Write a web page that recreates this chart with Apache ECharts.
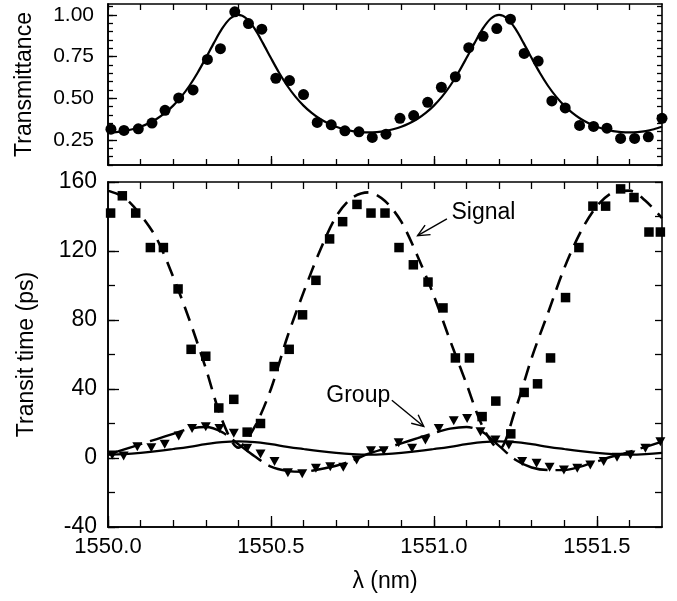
<!DOCTYPE html>
<html><head><meta charset="utf-8">
<script src="https://cdn.jsdelivr.net/npm/echarts@6/dist/echarts.min.js"></script>
<style>html,body{margin:0;padding:0;background:#fff}#c{width:677px;height:601px}</style>
</head><body><div id="c"></div>
<script>
// ---------- data ----------
// Top panel: measured transmittance (circles)
const xTrans = [1550.009,1550.049,1550.093,1550.135,1550.175,1550.217,1550.261,1550.305,1550.345,1550.389,1550.431,1550.472,1550.515,1550.557,1550.600,1550.642,1550.685,1550.727,1550.770,1550.811,1550.853,1550.896,1550.938,1550.981,1551.023,1551.066,1551.107,1551.151,1551.193,1551.235,1551.277,1551.320,1551.362,1551.403,1551.447,1551.490,1551.531,1551.573,1551.616,1551.658,1551.700];
const transData = [0.315,0.307,0.317,0.351,0.428,0.502,0.550,0.733,0.797,1.018,0.948,0.914,0.620,0.606,0.522,0.355,0.341,0.305,0.299,0.265,0.285,0.380,0.396,0.476,0.566,0.629,0.803,0.871,0.918,0.974,0.769,0.723,0.484,0.442,0.337,0.331,0.321,0.259,0.259,0.269,0.380];
// Top panel: fitted transmittance curve (solid)
const xFine = [1550.000,1550.025,1550.050,1550.075,1550.100,1550.125,1550.150,1550.175,1550.200,1550.225,1550.250,1550.275,1550.300,1550.325,1550.350,1550.375,1550.400,1550.425,1550.450,1550.475,1550.500,1550.525,1550.550,1550.575,1550.600,1550.625,1550.650,1550.675,1550.700,1550.725,1550.750,1550.775,1550.800,1550.825,1550.850,1550.875,1550.900,1550.925,1550.950,1550.975,1551.000,1551.025,1551.050,1551.075,1551.100,1551.125,1551.150,1551.175,1551.200,1551.225,1551.250,1551.275,1551.300,1551.325,1551.350,1551.375,1551.400,1551.425,1551.450,1551.475,1551.500,1551.525,1551.550,1551.575,1551.600,1551.625,1551.650,1551.675,1551.700];
const transFit = [0.295,0.297,0.303,0.314,0.329,0.350,0.377,0.412,0.456,0.510,0.575,0.653,0.741,0.832,0.917,0.978,1.000,0.978,0.917,0.832,0.741,0.653,0.575,0.510,0.456,0.412,0.377,0.350,0.329,0.314,0.303,0.297,0.295,0.297,0.303,0.314,0.329,0.350,0.377,0.412,0.456,0.510,0.575,0.653,0.741,0.832,0.917,0.978,1.000,0.978,0.917,0.832,0.741,0.653,0.575,0.510,0.456,0.412,0.377,0.350,0.329,0.314,0.303,0.297,0.295,0.297,0.303,0.314,0.329];

// Bottom panel: signal transit time (squares) and group delay (triangles)
const xSignal = [1550.008,1550.044,1550.085,1550.130,1550.170,1550.215,1550.255,1550.300,1550.340,1550.386,1550.427,1550.468,1550.510,1550.556,1550.597,1550.638,1550.680,1550.720,1550.764,1550.807,1550.850,1550.893,1550.937,1550.982,1551.028,1551.066,1551.109,1551.148,1551.190,1551.236,1551.277,1551.318,1551.358,1551.404,1551.445,1551.488,1551.527,1551.573,1551.614,1551.660,1551.695];
const signalData = [142,152,142,122,122,98,63,59,29,34,15,20,53,63,83,103,127,137,147,142,142,122,112,102,87,58,58,24,33,14,38,43,58,93,122,146,146,156,151,131,131];
const xGroup = [1550.013,1550.048,1550.090,1550.133,1550.174,1550.217,1550.258,1550.300,1550.342,1550.386,1550.427,1550.468,1550.511,1550.552,1550.596,1550.638,1550.682,1550.722,1550.763,1550.807,1550.846,1550.892,1550.933,1550.974,1551.015,1551.061,1551.102,1551.143,1551.189,1551.230,1551.271,1551.315,1551.355,1551.399,1551.440,1551.480,1551.521,1551.562,1551.603,1551.649,1551.695];
const groupData = [1.7,1.2,6.5,6,7.9,12.7,17.1,18.1,17.1,14.3,5.6,2.3,-2.1,-8.5,-9.2,-6,-5,-5.4,-1.2,4.2,4.2,8.8,5.6,10.4,17.1,21.6,22.9,15.2,10.4,7.5,-2.1,-3.1,-5.4,-6.9,-6,-4,-2.1,0.4,1.7,5.6,9.4];
// Bottom panel: fitted curves
const xFit = [1550.00,1550.05,1550.10,1550.15,1550.20,1550.25,1550.30,1550.35,1550.40,1550.45,1550.50,1550.55,1550.60,1550.65,1550.70,1550.75,1550.80,1550.85,1550.90,1550.95,1551.00,1551.05,1551.10,1551.15,1551.20,1551.25,1551.30,1551.35,1551.40,1551.45,1551.50,1551.55,1551.60,1551.65,1551.70];
const signalFit = [155,151,141,127,105,80,52,22,6,18,40,70,96,120,140,151,154,149,137,117,94,68,43,18,5,28,58,84,110,131,146,154,155,149,139];
const groupFit = [2,5,8,11,14,17,18,15,8,1,-5,-7.5,-8,-6.5,-4.5,-1.5,2.5,5.5,8.5,11.5,14.5,17,18,15,7,-1,-5.5,-7,-7,-5,-2,1,3.5,6.5,9.5];
const groupTheory = [2.0,2.3,3.0,4.0,5.2,6.5,8.0,9.2,9.6,9.2,8.0,6.5,5.2,4.0,3.0,2.3,2.0,2.3,3.0,4.0,5.2,6.5,8.0,9.2,9.6,9.2,8.0,6.5,5.2,4.0,3.0,2.3,2.0,2.3,3.0];

// ticks and labels
const xMajor = [1550.0,1550.5,1551.0,1551.5];
const xMinor = [1550.0,1550.1,1550.2,1550.3,1550.4,1550.5,1550.6,1550.7,1550.8,1550.9,1551.0,1551.1,1551.2,1551.3,1551.4,1551.5,1551.6];
const tMajor = [0.25,0.50,0.75,1.00];
const tMinor = [0.10,0.15,0.20,0.25,0.30,0.35,0.40,0.45,0.50,0.55,0.60,0.65,0.70,0.75,0.80,0.85,0.90,0.95,1.00,1.05];
const yMajor = [-40,0,40,80,120,160];
const yMinor = [-40,-20,0,20,40,60,80,100,120,140,160];

// annotations
const annTexts = [{text:'Signal', x:1551.152, y:142.5},{text:'Group', x:1550.768, y:36.4}];
const annArrows = [{from:[1551.04,138.6], to:[1550.95,128.9]},{from:[1550.871,33.5], to:[1550.969,18.3]}];

// ---------- chart ----------
const FONT = "'Liberation Sans', Arial, Helvetica, sans-serif";
const zip = (xs, ys) => xs.map((x, i) => [x, ys[i]]);

function ax(o) {
  const a = {
    type: 'value', gridIndex: o.grid, position: o.pos, min: o.min, max: o.max,
    axisLine: {show: true, onZero: false, lineStyle: {color: '#000', width: 1.6}},
    axisTick: {show: true, inside: true, length: o.len, customValues: o.ticks, lineStyle: {color: '#000', width: 1.3}},
    axisLabel: o.labels ? {show: true, customValues: o.labels, formatter: o.fmt, margin: o.margin, color: '#000', fontSize: o.fs || 22, fontFamily: FONT} : {show: false},
    splitLine: {show: false}, minorTick: {show: false}, minorSplitLine: {show: false}
  };
  if (o.name) {
    a.name = o.name; a.nameLocation = 'middle'; a.nameGap = o.nameGap;
    a.nameTextStyle = {color: '#000', fontSize: 23, fontFamily: FONT};
    if (o.nameRotate !== undefined) a.nameRotate = o.nameRotate;
  }
  return a;
}
const XMIN = 1550.0, XMAX = 1551.7;

const option = {
  animation: false,
  backgroundColor: '#fff',
  textStyle: {fontFamily: FONT},
  grid: [
    {left: 108, right: 15, top: 4, height: 161},
    {left: 108, right: 15, top: 182, height: 345}
  ],
  xAxis: [
    ax({grid:0,pos:'bottom',min:XMIN,max:XMAX,len:6,ticks:xMinor}),
    ax({grid:0,pos:'top',min:XMIN,max:XMAX,len:6,ticks:xMinor}),
    ax({grid:0,pos:'bottom',min:XMIN,max:XMAX,len:9,ticks:xMajor}),
    ax({grid:1,pos:'bottom',min:XMIN,max:XMAX,len:11,ticks:xMajor,labels:xMajor,fmt:v=>Number(v).toFixed(1),margin:9,fs:22,name:'λ (nm)',nameGap:43}),
    ax({grid:1,pos:'bottom',min:XMIN,max:XMAX,len:7,ticks:xMinor}),
    ax({grid:1,pos:'top',min:XMIN,max:XMAX,len:7,ticks:xMinor})
  ],
  yAxis: [
    ax({grid:0,pos:'left',min:0.1,max:1.065,len:9,ticks:tMajor,labels:tMajor,fmt:v=>Number(v).toFixed(2),margin:14,fs:21,name:'Transmittance',nameGap:72,nameRotate:90}),
    ax({grid:0,pos:'left',min:0.1,max:1.065,len:5,ticks:tMinor}),
    ax({grid:0,pos:'right',min:0.1,max:1.065,len:5,ticks:tMinor}),
    ax({grid:1,pos:'left',min:-40,max:160,len:11,ticks:yMajor,labels:yMajor,fmt:v=>String(v),margin:11,fs:23,name:'Transit time (ps)',nameGap:70,nameRotate:90}),
    ax({grid:1,pos:'left',min:-40,max:160,len:7,ticks:yMinor}),
    ax({grid:1,pos:'right',min:-40,max:160,len:7,ticks:yMinor})
  ],
  series: [
    {type:'line', xAxisIndex:0, yAxisIndex:0, data:zip(xFine, transFit), showSymbol:false, smooth:0.3,
      lineStyle:{color:'#000', width:2.2}, z:2},
    {type:'scatter', xAxisIndex:0, yAxisIndex:0, data:zip(xTrans, transData), symbol:'circle', symbolSize:11,
      itemStyle:{color:'#000', opacity:1}, z:3},
    {type:'line', xAxisIndex:3, yAxisIndex:3, data:zip(xFit, signalFit), showSymbol:false, smooth:0.3,
      lineStyle:{color:'#000', width:2.6, type:[15,9]}, z:2},
    {type:'line', xAxisIndex:3, yAxisIndex:3, data:zip(xFit, groupFit), showSymbol:false, smooth:0.3,
      lineStyle:{color:'#000', width:2.4, type:[36,8]}, z:2},
    {type:'line', xAxisIndex:3, yAxisIndex:3, data:zip(xFit, groupTheory), showSymbol:false, smooth:0.4,
      lineStyle:{color:'#000', width:2.2}, z:2},
    {type:'scatter', xAxisIndex:3, yAxisIndex:3, data:zip(xSignal, signalData), symbol:'rect', symbolSize:9.5,
      itemStyle:{color:'#000', opacity:1}, z:3},
    {type:'scatter', xAxisIndex:3, yAxisIndex:3, data:zip(xGroup, groupData), symbol:'triangle', symbolRotate:180, symbolSize:[10,9],
      itemStyle:{color:'#000', opacity:1}, z:3}
  ]
};

const chart = echarts.init(document.getElementById('c'), null, {renderer: 'canvas'});
chart.setOption(option);

// annotations positioned through the library's coordinate conversion
const toPx = p => chart.convertToPixel({seriesIndex: 2}, p);
const g = [];
annTexts.forEach(a => {
  const p = toPx([a.x, a.y]);
  g.push({type:'text', x:p[0], y:p[1], z:10,
    style:{text:a.text, fill:'#000', font:'23px ' + FONT, textAlign:'center', textVerticalAlign:'middle', align:'center', verticalAlign:'middle'}});
});
annArrows.forEach(a => {
  const s = toPx(a.from), e = toPx(a.to);
  const dx = e[0]-s[0], dy = e[1]-s[1], L = Math.hypot(dx, dy);
  const ux = dx/L, uy = dy/L, ang = 25*Math.PI/180, hl = 13;
  const arm = sgn => {
    const c = Math.cos(sgn*ang), sn = Math.sin(sgn*ang);
    const bx = -ux, by = -uy;
    return [e[0] + hl*(bx*c - by*sn), e[1] + hl*(bx*sn + by*c)];
  };
  const ls = {stroke:'#000', lineWidth:1.4};
  g.push({type:'line', z:10, shape:{x1:s[0], y1:s[1], x2:e[0], y2:e[1]}, style:ls});
  const a1 = arm(1), a2 = arm(-1);
  g.push({type:'polyline', z:10, shape:{points:[a1, e, a2]}, style:Object.assign({fill:null}, ls)});
});
chart.setOption({graphic: g});
</script>
</body></html>
